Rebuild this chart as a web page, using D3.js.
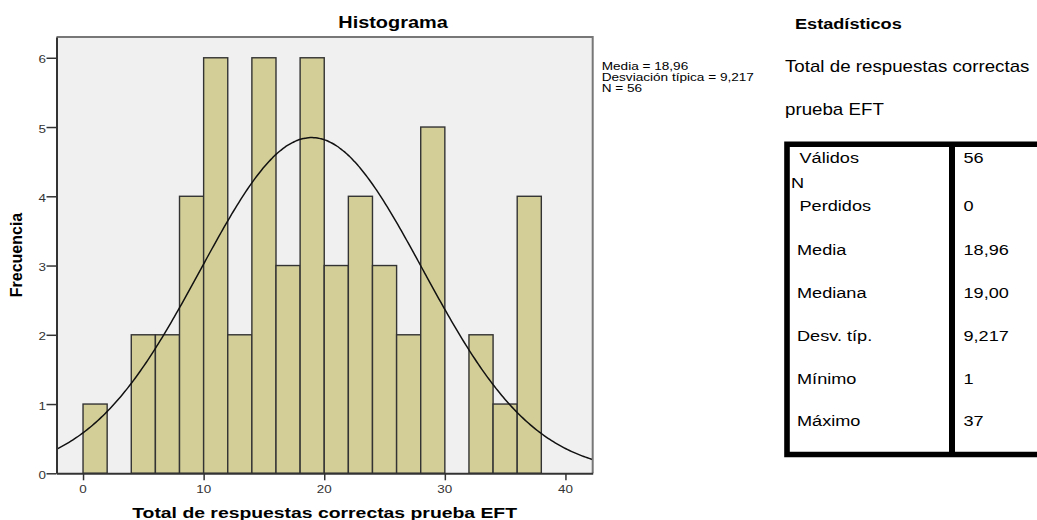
<!DOCTYPE html>
<html lang="es">
<head>
<meta charset="utf-8">
<title>Histograma – Total de respuestas correctas prueba EFT</title>
<script src="https://cdn.jsdelivr.net/npm/d3@7/dist/d3.min.js"></script>
<style>
  html, body { margin: 0; padding: 0; background: #ffffff; }
  svg { display: block; font-family: "Liberation Sans", Arial, Helvetica, sans-serif; }
</style>
</head>
<body>
<svg id="chart" width="1037" height="520"></svg>
<script>
// ---- Data -------------------------------------------------------------
// Lower edges of the histogram bins (bin width 2)
const binStarts = [0, 2, 4, 6, 8, 10, 12, 14, 16, 18, 20, 22, 24, 26, 28, 30, 32, 34, 36];
// Frequency in each bin
const binCounts = [1, 0, 2, 2, 4, 6, 2, 6, 3, 6, 3, 4, 3, 2, 5, 0, 2, 1, 4];
const binWidth = 2;

const xTicks = [0, 10, 20, 30, 40];
const yTicks = [0, 1, 2, 3, 4, 5, 6];

// Summary statistics
const statMean = 18.96;
const statSd = 9.217;
const statN = 56;
const legendLines = ["Media = 18,96", "Desviación típica = 9,217", "N = 56"];

// Statistics table rows: [label, value]
const tableRows = [
  ["Válidos", "56"],
  ["N", ""],
  ["Perdidos", "0"],
  ["Media", "18,96"],
  ["Mediana", "19,00"],
  ["Desv. típ.", "9,217"],
  ["Mínimo", "1"],
  ["Máximo", "37"]
];

// ---- Layout -----------------------------------------------------------
const SX = 1.17;               // horizontal stretch of all lettering
const plot = { left: 56.5, right: 592.7, top: 37, bottom: 473.3 };

const svg = d3.select("#chart");

const x = d3.scaleLinear().domain([-2.2, 42.26]).range([plot.left, plot.right]);
const y = d3.scaleLinear().domain([0, 6.3]).range([plot.bottom, plot.top]);

// text helper: places a horizontally stretched label at (px, py)
function label(parent, px, py, str, opts = {}) {
  return parent.append("text")
    .attr("transform", `translate(${px},${py}) scale(${opts.sx || SX},1)`)
    .attr("font-size", opts.size || 12)
    .attr("font-weight", opts.weight || "normal")
    .attr("text-anchor", opts.anchor || "start")
    .attr("fill", opts.fill || "#000")
    .text(str);
}

// ---- Plot background ------------------------------------------------
svg.append("rect")
  .attr("x", plot.left).attr("y", plot.top)
  .attr("width", plot.right - plot.left)
  .attr("height", plot.bottom - plot.top)
  .attr("fill", "#f0f0f0");

// ---- Bars -------------------------------------------------------------
const bins = binStarts.map((s, i) => ({ x0: s, x1: s + binWidth, n: binCounts[i] }))
  .filter(d => d.n > 0);

svg.append("g")
  .selectAll("rect")
  .data(bins)
  .join("rect")
  .attr("x", d => x(d.x0))
  .attr("y", d => y(d.n))
  .attr("width", d => x(d.x1) - x(d.x0))
  .attr("height", d => y(0) - y(d.n))
  .attr("fill", "#d3ce98")
  .attr("stroke", "#333333")
  .attr("stroke-width", 1.4);

// ---- Normal curve scaled to counts -----------------------------------
const scaleK = statN * binWidth / (statSd * Math.sqrt(2 * Math.PI));
const [d0, d1] = x.domain();
const curvePts = d3.range(0, 301).map(i => {
  const v = d0 + (d1 - d0) * i / 300;
  const z = (v - statMean) / statSd;
  return [v, scaleK * Math.exp(-0.5 * z * z)];
});
svg.append("path")
  .datum(curvePts)
  .attr("fill", "none")
  .attr("stroke", "#111")
  .attr("stroke-width", 1.5)
  .attr("d", d3.line().x(d => x(d[0])).y(d => y(d[1])).curve(d3.curveBasis));

// ---- Frame --------------------------------------------------------------
svg.append("path")
  .attr("d", `M${plot.left},${plot.top}H${plot.right}V${plot.bottom}`)
  .attr("fill", "none")
  .attr("stroke", "#777")
  .attr("stroke-width", 2);

// ---- Axes -------------------------------------------------------------
const xAxis = svg.append("g")
  .attr("transform", `translate(0,${plot.bottom})`)
  .call(d3.axisBottom(x).tickValues(xTicks).tickSize(7).tickSizeOuter(0).tickFormat(""));
xAxis.select(".domain").attr("stroke", "#333").attr("stroke-width", 2);
xAxis.selectAll(".tick line").attr("stroke", "#333").attr("stroke-width", 1.5);
xTicks.forEach(v => label(svg, x(v), 492.5, String(v), { size: 11.5, anchor: "middle", fill: "#333" }));

const yAxis = svg.append("g")
  .attr("transform", `translate(${plot.left},0)`)
  .call(d3.axisLeft(y).tickValues(yTicks).tickSize(10).tickSizeOuter(0).tickFormat(""));
yAxis.select(".domain").attr("stroke", "#333").attr("stroke-width", 2);
yAxis.selectAll(".tick line").attr("stroke", "#333").attr("stroke-width", 1.5);
yTicks.forEach(v => label(svg, 46, y(v) + 5.5, String(v), { size: 11.5, anchor: "end", fill: "#333" }));

// ---- Titles -----------------------------------------------------------
label(svg, 393, 28.3, "Histograma", { size: 17, weight: "bold", anchor: "middle" });
label(svg, (plot.left + plot.right) / 2, 517.5, "Total de respuestas correctas prueba EFT",
  { size: 15.5, sx: 1.25, weight: "bold", anchor: "middle" });

svg.append("text")
  .attr("transform", "translate(22,255) rotate(-90)")
  .attr("font-size", 16)
  .attr("font-weight", "bold")
  .attr("text-anchor", "middle")
  .text("Frecuencia");

// ---- Legend -----------------------------------------------------------
legendLines.forEach((s, i) => label(svg, 601.7, 69.5 + i * 11, s, { size: 10.8, sx: 1.26 }));

// ---- Statistics table --------------------------------------------------
const tbl = svg.append("g");
label(tbl, 795, 29.3, "Estadísticos", { size: 15.5, weight: "bold" });
label(tbl, 785, 72, "Total de respuestas correctas", { size: 16 });
label(tbl, 785, 115, "prueba EFT", { size: 16 });

const rowBaselines = [163, 188, 211, 255, 297.5, 340.5, 383.5, 426];
tableRows.forEach(([lab, val], i) => {
  const lx = lab === "N" ? 791 : (lab === "Válidos" || lab === "Perdidos") ? 799.5 : 797;
  label(tbl, lx, rowBaselines[i], lab, { size: 15.5 });
  if (val) label(tbl, 963.5, rowBaselines[i], val, { size: 15.5 });
});

// thick black borders
tbl.append("path")
  .attr("d", "M1040,144.2H787V454.5H1040")
  .attr("fill", "none")
  .attr("stroke", "#000")
  .attr("stroke-width", 5.6);
tbl.append("line")
  .attr("x1", 952).attr("x2", 952)
  .attr("y1", 144.2).attr("y2", 454.5)
  .attr("stroke", "#000")
  .attr("stroke-width", 6);
</script>
</body>
</html>
